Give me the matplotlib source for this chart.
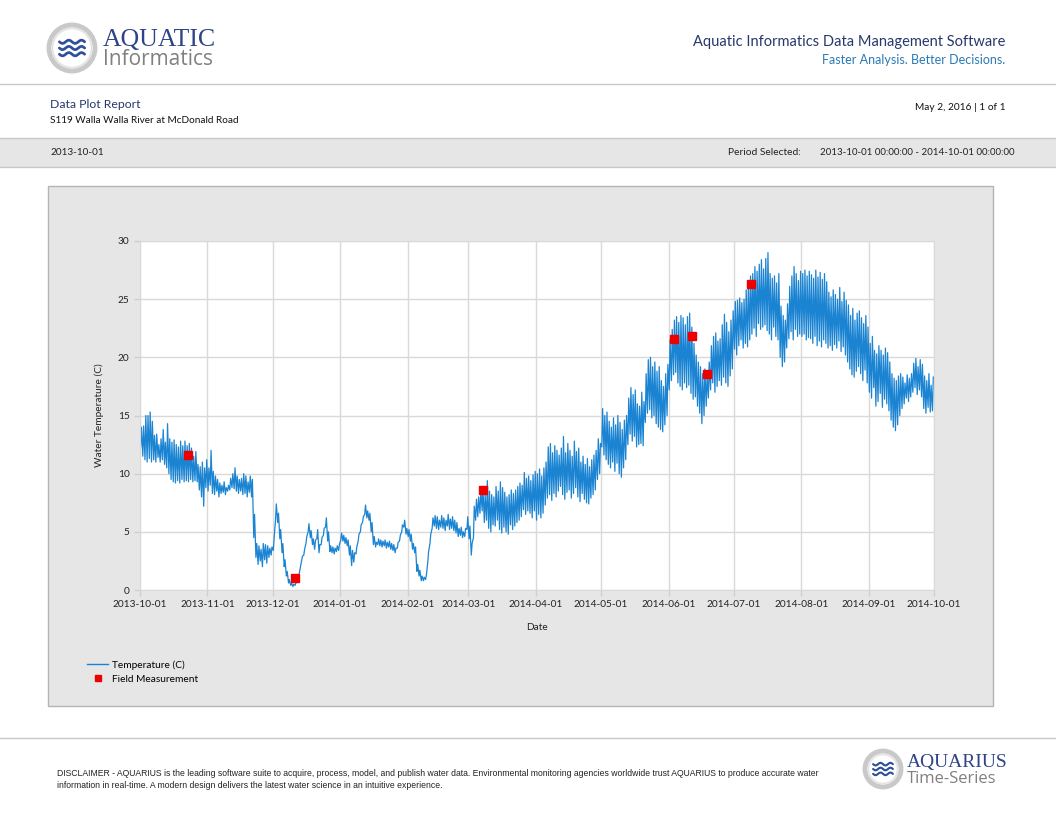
import numpy as np
import pandas as pd
import matplotlib
matplotlib.use("Agg")
import matplotlib.pyplot as plt
import matplotlib.dates as mdates
from matplotlib.patches import Rectangle, Circle
from matplotlib.lines import Line2D

# Daily high / low water temperature (C), Oct 2013 - Sep 2014
day_high = [
    14.0, 14.1, 15.0, 15.0, 15.3, 14.5, 13.3, 13.4, 12.5, 13.0, 13.8, 12.7, 14.3, 13.0, 12.7, 12.9, 12.5, 12.3, 12.8, 12.4, 12.8, 12.4, 12.6, 12.2, 11.5, 11.9, 10.8, 10.6, 11.0, 10.5, 11.2,  # Oct
    10.5, 12.0, 10.2, 9.8, 9.5, 9.2, 9.0, 9.3, 8.8, 9.0, 9.6, 10.0, 10.5, 9.8, 9.5, 9.6, 10.0, 9.8, 9.3, 9.8, 9.5, 6.5, 4.0, 3.8, 3.5, 4.0, 3.9, 3.8, 3.6, 3.7,  # Nov
    4.5, 7.4, 6.6, 5.2, 4.0, 2.6, 1.6, 0.9, 0.6, 0.5, 0.6, 1.0, 1.9, 2.9, 3.5, 4.6, 5.7, 5.1, 4.4, 4.3, 5.2, 3.9, 4.5, 5.3, 6.2, 5.0, 3.8, 3.7, 3.6, 3.8, 3.9,  # Dec
    4.9, 4.7, 4.5, 4.3, 3.8, 3.4, 3.2, 3.7, 4.8, 5.6, 6.3, 7.3, 6.8, 6.6, 5.8, 4.6, 4.1, 4.4, 4.3, 4.2, 4.3, 4.1, 4.2, 4.0, 3.9, 3.6, 4.1, 4.7, 5.6, 6.0, 5.3,  # Jan
    5.2, 4.8, 4.0, 3.7, 2.2, 1.7, 1.2, 1.1, 1.3, 3.3, 4.8, 6.2, 6.4, 6.3, 6.0, 6.4, 6.2, 6.0, 6.5, 6.1, 6.3, 6.0, 5.8, 5.3, 5.4, 5.0, 5.3, 6.3,  # Feb
    5.5, 4.0, 7.2, 7.8, 8.0, 8.6, 8.8, 8.2, 9.4, 8.5, 8.2, 8.0, 8.9, 8.5, 9.3, 8.8, 8.4, 8.0, 8.2, 8.6, 8.3, 8.6, 8.9, 9.2, 9.0, 10.1, 9.6, 9.8, 9.4, 9.9, 10.2,  # Mar
    10.0, 10.4, 9.8, 10.5, 11.0, 12.3, 12.6, 11.8, 12.4, 12.0, 11.6, 12.2, 13.2, 11.8, 12.6, 12.0, 11.5, 12.8, 11.9, 12.2, 11.0, 11.5, 10.8, 11.3, 10.6, 11.2, 11.6, 12.0, 13.0, 12.6,  # Apr
    15.6, 15.0, 15.3, 14.5, 14.0, 14.8, 14.2, 15.0, 14.4, 13.8, 14.6, 15.0, 16.5, 17.4, 16.8, 17.2, 16.0, 15.8, 17.0, 16.2, 18.6, 19.8, 20.0, 19.2, 19.6, 18.8, 19.2, 18.0, 17.5, 18.6, 19.4,  # May
    21.5, 22.4, 23.2, 23.5, 23.0, 23.6, 23.4, 22.8, 23.5, 23.8, 22.6, 21.2, 20.2, 19.6, 19.2, 18.6, 19.0, 18.4, 19.6, 21.0, 21.8, 22.1, 21.4, 21.6, 22.8, 23.7, 23.0, 22.2, 23.2, 24.0,  # Jun
    24.8, 24.9, 25.1, 24.7, 25.0, 25.8, 26.4, 27.0, 27.2, 27.8, 27.4, 28.0, 28.4, 27.6, 28.5, 29.0, 27.2, 26.8, 27.0, 26.4, 27.2, 24.4, 23.6, 23.2, 24.6, 26.1, 27.0, 27.8, 27.2, 26.6, 27.4,  # Jul
    27.2, 27.5, 27.0, 27.4, 27.1, 26.8, 27.5, 26.9, 27.3, 26.7, 27.2, 26.5, 25.6, 25.2, 25.8, 25.4, 25.0, 26.0, 24.8, 25.6, 24.9, 24.5, 23.6, 24.2, 23.2, 23.8, 24.0, 23.4, 22.9, 23.6, 22.6,  # Aug
    21.2, 21.8, 20.6, 20.3, 21.0, 20.6, 20.2, 20.8, 20.4, 19.6, 18.6, 18.2, 18.0, 18.4, 18.6, 18.3, 17.8, 18.5, 18.2, 18.6, 19.5, 19.9, 19.2, 19.8, 19.4, 18.4, 18.0, 18.6, 17.6, 18.3,  # Sep
]
day_low = [
    12.3, 11.5, 11.2, 11.0, 11.3, 11.0, 11.2, 11.0, 11.4, 11.0, 11.2, 10.8, 10.5, 10.0, 9.5, 9.3, 9.2, 9.4, 9.2, 9.5, 9.3, 9.4, 9.3, 9.5, 9.3, 9.4, 9.3, 8.6, 8.0, 7.2, 8.8,  # Oct
    8.5, 9.0, 8.3, 8.2, 8.5, 8.0, 8.3, 8.4, 8.2, 8.5, 8.6, 8.8, 8.7, 8.5, 8.3, 8.5, 8.2, 8.3, 8.0, 8.4, 8.0, 4.5, 2.8, 2.2, 2.5, 2.0, 2.6, 2.3, 2.8, 3.0,  # Nov
    3.4, 6.0, 5.8, 4.4, 3.2, 2.0, 1.2, 0.6, 0.4, 0.3, 0.4, 0.7, 1.5, 2.5, 3.0, 4.0, 5.0, 4.5, 3.9, 3.5, 4.4, 3.2, 3.9, 4.7, 5.4, 4.2, 3.3, 3.2, 3.1, 3.3, 3.4,  # Dec
    4.3, 4.2, 4.0, 3.8, 3.0, 2.1, 2.4, 3.1, 4.2, 5.0, 5.8, 6.5, 6.2, 6.0, 5.0, 3.9, 3.7, 3.9, 3.8, 3.7, 3.8, 3.6, 3.7, 3.5, 3.4, 3.2, 3.6, 4.2, 5.0, 5.4, 4.8,  # Jan
    4.6, 4.2, 3.5, 3.2, 1.6, 1.2, 0.8, 0.8, 0.9, 2.4, 4.0, 5.3, 5.5, 5.3, 5.2, 5.4, 5.3, 5.1, 5.5, 5.2, 5.3, 5.1, 4.9, 4.6, 4.7, 4.5, 4.6, 5.2,  # Feb
    4.4, 3.0, 4.5, 6.0, 6.3, 6.6, 6.8, 5.8, 6.0, 5.3, 5.0, 5.6, 5.5, 6.0, 5.2, 4.9, 5.4, 5.0, 4.8, 5.6, 5.2, 5.5, 5.8, 6.0, 6.3, 6.9, 6.5, 6.8, 6.6, 6.2, 6.8,  # Mar
    6.0, 6.5, 6.2, 6.6, 7.3, 7.9, 8.2, 7.7, 8.3, 8.0, 8.5, 8.9, 8.2, 7.8, 8.4, 8.6, 7.9, 8.3, 8.8, 8.0, 7.6, 8.3, 7.8, 7.5, 7.4, 7.9, 8.2, 8.6, 9.5, 10.0,  # Apr
    12.3, 11.6, 11.2, 10.8, 10.5, 11.0, 10.2, 10.9, 10.0, 9.7, 10.5, 11.2, 12.5, 13.4, 12.8, 13.2, 12.3, 12.5, 12.6, 12.4, 14.4, 15.2, 15.5, 14.8, 15.0, 14.3, 14.0, 13.8, 13.6, 14.2, 15.0,  # May
    17.2, 18.0, 18.5, 18.7, 17.8, 17.5, 17.2, 17.8, 17.4, 17.6, 16.9, 16.4, 16.6, 15.8, 15.2, 14.3, 15.0, 15.8, 16.5, 17.2, 17.8, 17.0, 17.5, 18.0, 17.6, 18.3, 17.8, 17.5, 18.4, 19.0,  # Jun
    20.7, 20.2, 21.0, 21.5, 20.8, 21.2, 20.9, 21.5, 22.0, 22.5, 21.8, 22.9, 22.4, 22.6, 22.8, 22.3, 22.0, 21.5, 22.6, 21.8, 21.5, 20.0, 19.2, 19.6, 20.8, 21.6, 22.2, 21.5, 22.4, 21.8, 22.0,  # Jul
    21.8, 22.0, 21.5, 21.7, 21.6, 21.2, 21.8, 21.0, 21.4, 20.9, 21.5, 21.2, 20.8, 21.0, 20.6, 21.1, 20.8, 21.4, 20.5, 20.9, 20.2, 19.6, 19.0, 18.5, 18.3, 18.8, 19.2, 18.6, 18.0, 18.9, 17.8,  # Aug
    17.0, 16.5, 17.4, 15.8, 16.2, 16.9, 15.7, 16.4, 16.0, 15.4, 14.6, 14.0, 13.7, 14.2, 15.0, 15.6, 16.0, 16.5, 16.2, 16.6, 17.0, 17.4, 16.8, 17.2, 16.6, 15.6, 15.2, 15.7, 15.3, 15.4,  # Sep
]

field_dates = ["2013-10-23 02:00", "2013-12-11 07:00", "2014-03-07 16:00", "2014-06-03 12:00",
               "2014-06-11 14:00", "2014-06-18 17:00", "2014-07-08 22:00"]
field_temp = [11.6, 1.0, 8.6, 21.6, 21.8, 18.6, 26.3]

tick_dates = pd.date_range("2013-10-01", "2014-10-01", freq="MS")

# build the continuous record: daily low in the morning, high in the afternoon
days = pd.date_range("2013-10-01", periods=len(day_high), freq="D")
t = np.empty(2 * len(days), dtype="datetime64[ns]")
t[0::2] = (days + pd.Timedelta(hours=7)).values
t[1::2] = (days + pd.Timedelta(hours=16)).values
temp = np.empty(2 * len(days))
temp[0::2] = day_low
temp[1::2] = day_high

plt.rcParams["font.family"] = ["Lato", "DejaVu Sans"]

W, H = 1056, 816
fig = plt.figure(figsize=(W / 100, H / 100), dpi=100)

# page layer in pixel coordinates
bg = fig.add_axes([0, 0, 1, 1], zorder=0)
bg.set_xlim(0, W)
bg.set_ylim(H, 0)
bg.axis("off")

navy = "#27396b"
grey_line = "#c8c8c8"


def logo(ax, cx, cy, r):
    ax.add_patch(Circle((cx, cy), r, facecolor="white", edgecolor="#c9c9c9", lw=3.5))
    ax.add_patch(Circle((cx, cy), r - 3.5, facecolor="none", edgecolor="#e4e4e4", lw=1.2))
    xs = np.linspace(cx - r * 0.55, cx + r * 0.55, 80)
    for dy in (-r * 0.27, 0, r * 0.27):
        ys = cy + dy + r * 0.07 * np.sin((xs - xs[0]) / (r * 1.1) * 2 * np.pi * 2)
        ax.plot(xs, ys, color="#2e4f9a", lw=r * 0.085, solid_capstyle="round")


# header
logo(bg, 72, 48, 23)
bg.text(103, 46, "AQUATIC", family="Liberation Serif", fontsize=18.5, color="#2f4387", va="baseline")
bg.text(103, 65, "Informatics", family="Open Sans", fontsize=15, color="#808080", va="baseline")
bg.text(1005, 46, "Aquatic Informatics Data Management Software", fontsize=10.5, color=navy,
        ha="right", va="baseline")
bg.text(1005, 64, "Faster Analysis. Better Decisions.", fontsize=9, color="#2a7ab5",
        ha="right", va="baseline")
bg.plot([0, W], [84, 84], color=grey_line, lw=1)

bg.text(50, 108, "Data Plot Report", fontsize=8.8, color=navy, va="baseline")
bg.text(50, 123, "S119 Walla Walla River at McDonald Road", fontsize=7.2, color="#111111", va="baseline")
bg.text(1006, 110, "May 2, 2016 | 1 of 1", fontsize=7.3, color="#111111", ha="right", va="baseline")

bg.add_patch(Rectangle((0, 138), W, 29, facecolor="#e6e6e6", edgecolor="none"))
bg.plot([0, W], [138, 138], color=grey_line, lw=1)
bg.plot([0, W], [167, 167], color=grey_line, lw=1)
bg.text(50, 155, "2013-10-01", fontsize=7.2, color="#222222", va="baseline")
bg.text(728, 155, "Period Selected:", fontsize=7.4, color="#222222", va="baseline")
bg.text(1014, 155, "2013-10-01 00:00:00 - 2014-10-01 00:00:00", fontsize=7.0, color="#222222",
        ha="right", va="baseline")

# chart panel
bg.add_patch(Rectangle((48, 186), 945, 520, facecolor="#e6e6e6", edgecolor="#b4b4b4", lw=1))

# footer
bg.plot([0, W], [738, 738], color=grey_line, lw=1)
bg.text(57, 776, "DISCLAIMER - AQUARIUS is the leading software suite to acquire, process, model, and publish water data. "
        "Environmental monitoring agencies worldwide trust AQUARIUS to produce accurate water",
        family="Liberation Sans", fontsize=6.25, color="#222222", va="baseline")
bg.text(57, 788, "information in real-time. A modern design delivers the latest water science in an intuitive experience.",
        family="Liberation Sans", fontsize=6.25, color="#222222", va="baseline")
logo(bg, 883, 769, 18)
bg.text(907, 767, "AQUARIUS", family="Liberation Serif", fontsize=14, color="#2f4387", va="baseline")
bg.text(907, 783, "Time-Series", family="Open Sans", fontsize=12, color="#808080", va="baseline")

# data axes
ax = fig.add_axes([140 / W, (H - 590) / H, 794 / W, 349 / H], zorder=1)
ax.set_facecolor("white")
ax.plot(t, temp, color="#1b84d2", lw=0.9)
ax.plot(pd.to_datetime(field_dates), field_temp, "s", color="#ee0000", ms=5.5, mec="#ee0000")

ax.set_xlim(pd.Timestamp("2013-10-01"), pd.Timestamp("2014-10-01"))
ax.set_ylim(0, 30)
ax.set_yticks(range(0, 31, 5))
ax.set_xticks(tick_dates)
ax.xaxis.set_major_formatter(mdates.DateFormatter("%Y-%m-%d"))
ax.grid(True, color="#d9d9d9", lw=1)
ax.set_axisbelow(True)
for s in ax.spines.values():
    s.set_color("#d9d9d9")
ax.tick_params(colors="#cfcfcf", labelcolor="#222222", labelsize=7.3, length=4, width=1)
ax.set_xlabel("Date", fontsize=7.3, color="#222222", labelpad=10)
ax.set_ylabel("Water Temperature (C)", fontsize=7.3, color="#222222", labelpad=10)

handles = [Line2D([], [], color="#1b84d2", lw=1),
           Line2D([], [], ls="none", marker="s", color="#ee0000", ms=5)]
fig.legend(handles, ["Temperature (C)", "Field Measurement"], loc="upper left",
           bbox_to_anchor=(82 / W, 1 - 655 / H), frameon=False, fontsize=7.3,
           handlelength=2.1, handletextpad=0.35, labelspacing=0.5, borderpad=0)

fig.savefig("out.png", dpi=100)
